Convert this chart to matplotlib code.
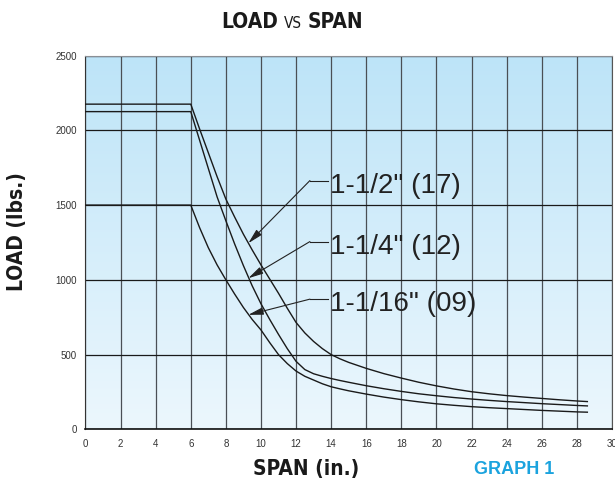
import numpy as np
import matplotlib
matplotlib.use('Agg')
import matplotlib.pyplot as plt
from matplotlib.colors import LinearSegmentedColormap

# span (in.) and allowable load (lbs.) for each size
span = [0, 6, 6.5, 7, 7.5, 8, 8.5, 9, 9.5, 10, 10.5, 11, 11.5, 12, 12.5, 13, 13.5, 14, 14.5,
        15, 16, 17, 18, 19, 20, 21, 22, 23, 24, 25, 26, 27, 28, 28.6]
load_17 = [2175, 2175, 2010, 1850, 1690, 1540, 1420, 1305, 1200, 1100, 1005, 910, 810, 715, 645, 588, 540, 500, 472,
           448, 408, 373, 343, 315, 291, 270, 252, 238, 226, 216, 207, 198, 190, 186]
load_12 = [2125, 2125, 1935, 1745, 1555, 1395, 1240, 1095, 960, 840, 735, 635, 540, 455, 400, 372, 355, 340, 327,
           315, 292, 272, 254, 238, 225, 213, 203, 194, 186, 179, 172, 166, 160, 157]
load_09 = [1500, 1500, 1350, 1215, 1100, 1000, 905, 815, 735, 665, 580, 500, 440, 390, 355, 330, 305, 285, 271,
           258, 236, 216, 199, 184, 171, 161, 152, 145, 139, 133, 127, 122, 117, 115]

labels = ['1-1/2" (17)', '1-1/4" (12)', '1-1/16" (09)']
label_y = [1628, 1220, 840]
leader_y = [1664, 1256, 871]
arrow_tip = [(9.28, 1245), (9.28, 1011), (9.28, 766)]

x_ticks = list(range(0, 31, 2))
y_ticks = list(range(0, 2501, 500))

plain = ['Liberation Sans', 'DejaVu Sans']

fig = plt.figure(figsize=(6.15, 4.83), dpi=100)
ax = fig.add_axes([0.139, 0.111, 0.856, 0.774])

# sky-blue fade behind the grid
cmap = LinearSegmentedColormap.from_list('sky', ['#bde4f8', '#ecf7fd'])
ax.imshow(np.linspace(0, 1, 256).reshape(-1, 1), cmap=cmap, aspect='auto',
          extent=[0, 30, 0, 2500], zorder=0)

ax.set_xlim(0, 30)
ax.set_ylim(0, 2500)
ax.set_xticks(x_ticks)
ax.set_yticks(y_ticks)
ax.xaxis.grid(True, color='#4a4f55', lw=0.9)
ax.yaxis.grid(True, color='#1a1a1a', lw=0.9)
ax.tick_params(length=0, labelsize=7, labelcolor='#333333')
ax.tick_params(axis='x', pad=7)
ax.tick_params(axis='y', pad=6)
for lab in ax.get_xticklabels() + ax.get_yticklabels():
    lab.set_family(plain)

ax.spines['top'].set_color('#8a8f95')
ax.spines['right'].set_color('#555555')
ax.spines['left'].set_color('#333333')
ax.spines['bottom'].set_color('#111111')
ax.spines['bottom'].set_linewidth(1.2)

for ld in (load_17, load_12, load_09):
    ax.plot(span, ld, color='#1a1a1a', lw=1.0, zorder=3)

for txt, ty, ly, tip in zip(labels, label_y, leader_y, arrow_tip):
    ax.plot([12.79, 13.82], [ly, ly], color='#222222', lw=0.8, zorder=4)
    ax.annotate('', xy=tip, xytext=(12.79, ly),
                arrowprops=dict(arrowstyle='-|>,head_length=0.9,head_width=0.22',
                                color='#222222', lw=0.8, shrinkA=0, shrinkB=0),
                zorder=4)
    ax.text(13.93, ty, txt, fontsize=20, va='center', ha='left',
            color='#222222', family=plain, zorder=5)

narrow = dict(family='DejaVu Sans', stretch='condensed', color='#1a1a1a')

# title in three pieces: bold LOAD / small VS / bold SPAN
fig.text(278 / 615, 0.942, 'LOAD', fontsize=15, fontweight='bold',
         ha='right', va='baseline', **narrow)
fig.text(293 / 615, 0.942, 'VS', fontsize=11, ha='center', va='baseline', **narrow)
fig.text(308 / 615, 0.942, 'SPAN', fontsize=15, fontweight='bold',
         ha='left', va='baseline', **narrow)

fig.text(17 / 615, 1 - 232 / 483, 'LOAD (lbs.)', rotation=90, fontsize=15,
         fontweight='bold', ha='center', va='center', **narrow)
fig.text(306 / 615, 1 - 469 / 483, 'SPAN (in.)', fontsize=15, fontweight='bold',
         ha='center', va='center', **narrow)
fig.text(514 / 615, 1 - 469 / 483, 'GRAPH 1', fontsize=13, fontweight='bold',
         family=plain, ha='center', va='center', color='#1ba3de')

fig.savefig('out.png', dpi=100)
